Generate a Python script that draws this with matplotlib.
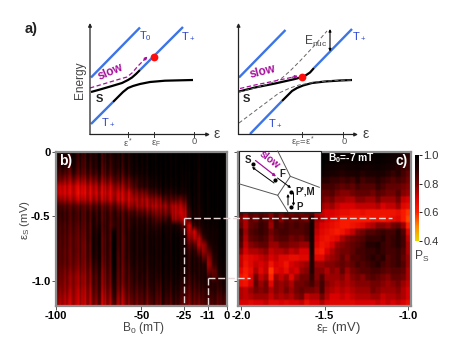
import numpy as np
import matplotlib
matplotlib.use("Agg")
import matplotlib.pyplot as plt
from matplotlib.colors import LinearSegmentedColormap

plt.rcParams['font.family'] = ['Liberation Sans', 'DejaVu Sans']
plt.rcParams['mathtext.fontset'] = 'custom'
plt.rcParams['mathtext.rm'] = 'Liberation Sans'
plt.rcParams['mathtext.default'] = 'regular'

W, H = 458, 354

# Panel b: P_S in hundredths, rows eps_S 0 to -1.2 mV, columns B0 -100 to 0 mT
ps_b = [
 [92,94,90,94,91,88,92,90,94,88,92,90,94,91,94,96,98,97,98,99,100,100,98,100,100,100,100,100,98,100,100,100,100,100],
 [90,92,88,92,90,86,90,90,93,87,90,88,92,90,93,96,97,97,98,99,100,100,98,99,100,99,100,100,97,100,99,100,100,100],
 [88,90,86,90,88,85,88,89,92,85,89,87,91,89,92,95,96,96,97,99,99,99,98,99,100,98,100,99,97,99,99,100,100,100],
 [85,85,82,86,85,82,85,86,88,83,86,85,88,86,90,93,94,95,96,97,98,99,98,99,99,97,99,99,96,99,99,99,100,100],
 [80,78,77,78,78,76,79,79,82,78,80,80,84,81,84,88,90,92,93,95,96,98,97,98,99,96,99,99,96,99,99,99,100,100],
 [72,71,71,71,71,70,72,73,75,72,74,74,77,76,80,84,88,90,91,93,94,96,95,96,98,95,99,98,96,99,99,99,100,100],
 [71,70,70,70,69,68,70,71,72,70,71,71,72,72,73,78,80,80,84,86,88,92,90,92,94,92,97,98,95,99,98,99,99,100],
 [77,75,75,74,74,73,73,75,75,73,73,73,72,71,72,74,76,75,76,78,78,84,84,84,82,84,95,96,95,98,98,99,99,100],
 [86,84,84,83,85,82,82,84,84,82,82,81,80,78,76,78,76,76,75,74,75,76,78,74,74,76,92,96,94,98,98,99,99,100],
 [88,87,86,86,88,84,86,88,88,85,86,85,86,84,85,86,84,84,82,80,79,80,80,74,72,72,88,94,93,97,98,98,99,100],
 [87,87,86,85,88,84,86,90,88,85,87,85,88,85,88,90,90,90,88,86,84,86,88,76,76,72,88,93,93,96,97,98,99,100],
 [86,85,85,84,86,83,85,90,90,86,86,84,88,85,88,92,91,92,91,90,90,94,92,94,90,84,72,88,91,94,96,96,98,100],
 [85,85,84,83,85,82,85,91,92,85,87,92,88,85,90,93,92,93,92,93,92,96,93,96,94,90,74,71,84,92,95,95,97,99],
 [85,84,83,82,84,81,85,92,93,84,86,94,88,84,90,93,92,94,93,94,93,97,93,98,96,94,78,74,75,87,94,95,97,99],
 [84,84,83,82,84,80,84,92,93,84,87,95,88,84,90,93,92,94,93,94,93,97,94,98,96,94,84,84,74,76,90,94,97,99],
 [84,83,82,82,84,80,84,92,92,84,86,95,87,84,90,93,92,94,93,95,93,97,94,98,97,95,88,90,82,76,84,92,96,99],
 [84,83,82,81,83,80,83,90,92,83,86,94,86,84,89,92,92,93,92,94,93,96,94,97,96,95,90,92,90,82,78,90,96,98],
 [83,82,82,80,82,79,82,88,90,82,85,94,86,83,88,92,91,92,92,94,92,96,94,97,96,95,90,92,92,90,76,88,95,97],
 [82,80,80,78,80,78,80,86,88,80,84,92,85,82,87,90,90,92,90,93,92,95,93,96,95,94,90,92,92,92,80,82,94,96],
 [81,79,78,76,78,76,79,84,86,79,83,90,84,82,86,89,90,90,89,92,90,94,92,95,94,92,88,90,92,92,88,84,90,95],
 [80,78,78,76,78,76,78,84,85,78,82,88,83,81,85,88,88,90,88,91,88,93,90,94,92,90,87,88,90,91,90,90,90,94],
 [78,77,76,75,76,74,76,82,84,76,80,86,81,78,84,86,86,88,86,90,86,92,88,92,90,88,84,86,88,88,88,90,88,92],
 [76,75,74,74,75,73,75,80,82,74,78,84,78,76,82,84,84,86,84,88,84,90,86,90,88,85,82,84,85,86,86,88,85,88],
 [74,74,72,73,74,72,74,78,80,72,76,80,76,74,80,82,82,84,82,86,82,88,84,88,86,82,80,82,82,84,84,86,84,86],
]

# Narrow vertical streaks of panel b, hundredths, read across the 102 fine columns
b_streak = [0, 2, -1, 3, 1, -2, 4, 0, -3, 2, 4, 1, -2, -4, 3, 0, 2, -2, 5, 3, -3, 1, 4, 0,
            -3, 6, 2, -4, 4, 0, 5, 1, -3, 2, 4, 6, 0, -2, 4, -3, 1, 5, 3, -4, 2, -1, 4, 0,
            -3, 3, 1, -2, 4, 0, -4, 2, 3, -1, 4, -3, 0, 3, -2, 4, 1, -3, 2, 4, -2, 0, 3, -3,
            4, 1, -2, 0, 3, -1, 2, -3, 1, 4, -2, 2, 0, -3, 3, -1, 1, 3, -2, 0, 2, -1, 1, 0,
            -2, 2, 0, 1, -1, 0]

# Panel c: P_S in hundredths, rows eps_S 0 to -1.2 mV, columns eps_F -2.0 to -1.0 mV
ps_c = [
 [100,100,100,100,100,100,100,100,100,100,100,100,100,100,100,100,100,99,99,98,98,97,98,99,100,99,98,99,98,97,96,95,93,90],
 [100,100,100,100,100,100,100,100,100,100,100,100,100,100,100,100,100,98,98,97,97,97,97,98,98,97,97,98,97,96,95,94,90,88],
 [99,99,99,99,99,99,99,99,99,99,99,99,99,99,99,99,99,96,96,95,94,95,95,96,95,94,96,96,95,94,92,90,88,86],
 [98,98,98,98,98,98,98,98,98,98,98,98,98,98,98,98,96,94,93,92,90,92,92,93,90,92,92,93,92,90,88,90,86,82],
 [96,96,96,96,96,96,96,96,96,96,96,96,96,96,96,92,90,90,88,88,86,88,86,90,86,88,88,90,88,86,84,86,84,80],
 [94,94,94,94,94,94,94,94,94,94,94,94,94,94,92,88,86,86,86,84,82,84,82,86,84,84,84,88,85,82,82,82,80,78],
 [92,92,92,92,92,92,92,92,92,92,92,92,92,92,88,84,82,82,84,80,78,78,80,82,82,82,80,84,82,80,80,84,78,76],
 [90,90,90,90,90,90,90,90,90,90,90,90,90,90,84,82,80,78,80,76,76,74,74,78,78,76,76,80,76,76,76,80,72,70],
 [88,88,88,88,88,88,88,88,88,88,88,88,88,88,82,78,76,74,76,72,70,70,70,72,72,72,72,74,70,72,72,76,68,66],
 [84,78,84,82,84,82,78,84,80,84,80,82,80,82,84,74,72,70,70,68,66,66,64,64,66,64,64,64,64,64,64,66,62,58],
 [80,74,82,80,86,84,78,86,78,84,82,84,82,80,92,76,74,70,68,66,62,62,62,62,62,62,64,64,62,64,66,68,62,56],
 [82,74,82,84,88,86,76,86,84,86,84,86,84,86,94,74,70,68,66,64,62,62,64,66,68,72,74,78,78,76,80,82,76,60],
 [88,76,84,86,88,86,80,84,86,86,84,84,84,86,94,72,68,66,64,62,64,68,72,78,80,84,84,86,88,86,86,90,84,68],
 [86,74,82,84,86,84,78,82,84,84,80,82,80,84,94,70,66,64,66,68,74,78,80,82,84,88,88,88,90,86,88,90,86,72],
 [84,72,78,80,82,82,76,76,80,80,78,78,76,76,92,68,64,66,70,76,78,80,82,84,86,90,90,92,88,86,88,90,86,74],
 [78,70,74,74,76,78,72,74,74,76,72,74,70,70,92,64,62,70,74,78,80,80,82,86,86,88,88,90,88,86,86,88,84,74],
 [72,66,68,70,72,74,70,72,68,68,66,66,68,68,90,68,68,74,76,78,82,78,84,84,86,88,90,88,90,84,86,88,82,76],
 [72,64,68,72,70,72,64,70,68,64,70,72,74,76,90,76,76,78,78,80,82,80,82,86,84,86,88,90,86,84,86,88,84,76],
 [68,62,66,74,68,72,58,68,70,66,72,70,76,78,90,78,78,74,78,76,82,76,80,82,84,84,86,86,84,82,84,84,82,74],
 [64,60,68,80,72,76,60,76,72,76,68,76,80,80,88,78,84,76,76,76,78,74,78,80,78,82,84,82,80,78,82,82,80,74],
 [66,64,70,82,76,80,68,78,76,78,74,80,80,82,86,80,86,78,76,74,76,74,76,78,78,78,80,80,78,76,78,80,76,72],
 [74,72,76,80,78,80,74,78,76,80,76,80,82,80,80,78,86,76,74,72,74,72,74,76,76,76,80,78,76,76,76,78,74,70],
 [74,72,74,76,76,76,72,76,74,76,74,78,80,72,74,74,80,74,70,70,72,70,72,74,74,74,76,76,72,74,74,76,74,70],
 [70,70,68,70,70,72,68,68,70,68,70,70,72,66,70,70,74,70,68,68,68,68,68,70,70,70,70,72,70,72,70,72,70,66],
]

b_ticks = [-100, -50, -25, -11, 0]
b_ticklabels = ['-100', '-50', '-25', '-11', '0']
c_ticks = [-2.0, -1.5, -1.0]
y_ticks = [0, -0.5, -1.0]
y_ticklabels = ['0', '-0.5', '-1.0']
cb_ticks = [0.4, 0.6, 0.8, 1.0]

# Schematic curves (picture coordinates of the two energy diagrams)
L_T0 = ([91, 140], [77.5, 27.5])
L_Tp_up = ([140, 183], [70, 27])
L_Tp_lo = ([91, 113], [124, 102])
L_S_up = ([91, 100, 112, 122, 128, 132, 136, 140], [92, 89.5, 86, 83, 80, 77.5, 74, 70])
L_S_lo = ([113, 118, 123, 128, 133, 140, 150, 165, 193], [102, 97, 92, 88, 86, 84, 82, 80.7, 80])
L_slow = ([90, 105, 120, 127, 132, 138, 146], [88, 83.5, 79, 77, 73, 66, 58])
R_T0 = ([239, 285.5], [77.5, 30])
R_Tp_up = ([314, 352], [68, 29])
R_Tp_lo = ([250, 282], [134, 101])
R_S_up = ([239, 255, 275, 295, 304, 310, 314], [91.5, 87.5, 83.5, 79, 76.5, 72.5, 68])
R_S_lo = ([282, 287, 292, 297, 303, 312, 325, 340, 352], [101, 96, 91, 88, 85.5, 83, 81.5, 80.5, 80])
R_gray1 = ([239, 259, 279, 290, 299, 316, 335, 352], [123, 108, 93, 88, 85, 82, 80.5, 80])
R_gray2 = ([239, 255, 270, 282, 290, 300, 314, 327], [92, 88, 83.5, 78, 71, 61, 46, 31])
R_slow = ([240, 255, 270, 284, 296], [88.5, 85, 82, 79, 76.5])

fig = plt.figure(figsize=(W / 100, H / 100), dpi=100)
fig.patch.set_facecolor('white')

def px_axes(x0, y0, x1, y1, **kw):
    return fig.add_axes([x0 / W, 1 - y1 / H, (x1 - x0) / W, (y1 - y0) / H], **kw)

ps_cmap = LinearSegmentedColormap.from_list(
    'ps', [(0, '#e8d800'), (0.17, '#ff8800'), (0.33, '#ff2000'), (0.5, '#d80000'),
           (0.67, '#700000'), (0.85, '#200000'), (1, '#000000')])
GRAY = '#8c8c8c'
TICKFS = 8

# ---- panel b
b_fine = np.repeat(np.array(ps_b), 3, axis=1) + np.array(b_streak)
ax_b = px_axes(56, 151.5, 226.5, 305.5)
ax_b.imshow(np.clip(b_fine, 0, 100) / 100, cmap=ps_cmap, vmin=0.4, vmax=1.0, aspect='auto',
            extent=[-100, 0, -1.2, 0], interpolation='bilinear')
ax_b.set_xlim(-100, 0)
ax_b.set_ylim(-1.19, 0)
ax_b.set_xticks(b_ticks, b_ticklabels, fontweight='bold', fontsize=TICKFS)
ax_b.set_yticks(y_ticks, y_ticklabels, fontweight='bold', fontsize=TICKFS)
ax_b.tick_params(length=3, width=0.7, color='#555555', pad=1)

# ---- panel c: soft-edged cells
c_fine = np.repeat(np.repeat(np.array(ps_c), 3, axis=0), 3, axis=1)
ax_c = px_axes(238.5, 151.5, 410.5, 305.5)
ax_c.imshow(c_fine / 100, cmap=ps_cmap, vmin=0.4, vmax=1.0, aspect='auto',
            extent=[-2.016, -0.984, -1.2, 0], interpolation='bilinear')
ax_c.set_xlim(-2.016, -0.984)
ax_c.set_ylim(-1.19, 0)
ax_c.set_xticks(c_ticks, ['-2.0', '-1.5', '-1.0'], fontweight='bold', fontsize=TICKFS)
ax_c.set_yticks(y_ticks, ['', '', ''])
ax_c.tick_params(length=3, width=0.7, color='#555555', pad=1)

for ax in (ax_b, ax_c):
    for s in ax.spines.values():
        s.set_color(GRAY)
        s.set_linewidth(1.6)

# ---- colour bar
ax_cb = px_axes(414.5, 155, 418.5, 241)
ax_cb.imshow(np.linspace(1.0, 0.4, 128)[:, None], cmap=ps_cmap, vmin=0.4, vmax=1.0,
             aspect='auto', extent=[0, 1, 0.4, 1.0])
ax_cb.set_xticks([])
ax_cb.yaxis.tick_right()
ax_cb.set_yticks(cb_ticks, ['0.4', '0.6', '0.8', '1.0'], fontsize=TICKFS, color='#333333')
ax_cb.tick_params(length=2, width=0.6, pad=1.5)
for s in ax_cb.spines.values():
    s.set_visible(False)

# ---- overlay in picture coordinates
ov = fig.add_axes([0, 0, 1, 1], facecolor='none')
ov.set_xlim(0, W)
ov.set_ylim(H, 0)
ov.axis('off')

BLUE = '#3d74e6'
PURPLE = '#a6109c'
TXT = '#444444'

def arrow(x0, y0, x1, y1, color='black', lw=0.8, style='-|>', ms=4, z=6):
    ov.annotate('', xy=(x1, y1), xytext=(x0, y0), zorder=z,
                arrowprops=dict(arrowstyle=style, color=color, lw=lw, mutation_scale=ms,
                                shrinkA=0, shrinkB=0))

for x0, x1, tx in [(90, 210, 217), (238.5, 358, 366)]:
    arrow(x0, 134.5, x1, 134.5, color='#222222', lw=0.9, ms=5)
    arrow(x0, 134.5, x0, 23, color='#222222', lw=0.9, ms=5)
    ov.text(tx, 133.5, 'ε', fontsize=10, ha='center', va='center', color=TXT)

for xs, ys in [L_T0, L_Tp_up, L_Tp_lo, R_T0, R_Tp_up, R_Tp_lo]:
    ov.plot(xs, ys, color=BLUE, lw=1.7, solid_capstyle='butt')
for xs, ys in [L_S_up, L_S_lo, R_S_up, R_S_lo]:
    ov.plot(xs, ys, color='black', lw=1.6, solid_capstyle='butt', solid_joinstyle='round')
for xs, ys in [R_gray1, R_gray2]:
    ov.plot(xs, ys, color='#666666', lw=0.7, ls=(0, (4, 2.5)))
for xs, ys in [L_slow, R_slow]:
    ov.plot(xs, ys, color=PURPLE, lw=0.9, ls=(0, (3.5, 2)))
arrow(144, 60, 147.5, 56.5, color=PURPLE, lw=0.9)
arrow(292, 77.3, 298, 76, color=PURPLE, lw=0.9)
ov.plot([153.5], [56.5], 'o', color='#ff0d0d', ms=5.6, mew=0, zorder=7)
ov.plot([301.5], [77], 'o', color='#ff0d0d', ms=5.6, mew=0, zorder=7)
arrow(330, 51.5, 330, 29, lw=0.8, style='<|-|>', ms=3.5)

for x in [128, 154, 194, 302, 343]:
    ov.plot([x, x], [132, 136.5], color='#333333', lw=0.7)

ov.text(31, 29, 'a)', fontsize=10.5, fontweight='bold', ha='center', va='center', color='#222222')
ov.text(80, 80, 'Energy', fontsize=8.6, rotation=90, ha='center', va='center', color=TXT)
ov.text(111, 72, 'slow', fontsize=8.6, fontweight='bold', color=PURPLE, rotation=23, ha='center', va='center')
ov.text(263, 72, 'slow', fontsize=8.6, fontweight='bold', color=PURPLE, rotation=14, ha='center', va='center')
ov.text(99, 98.5, 'S', fontsize=8, fontweight='bold', ha='center', va='center', color='#222222')
ov.text(246, 99, 'S', fontsize=8, fontweight='bold', ha='center', va='center', color='#222222')
for x, y, s in [(145, 36.5, 'T$_0$'), (188, 36, 'T$_+$'), (108, 122, 'T$_+$'), (275, 123.5, 'T$_+$'), (359, 36, 'T$_+$')]:
    ov.text(x, y, s, fontsize=8, color='#2b45d0', ha='center', va='center')
ov.text(316, 41, 'E$_{nuc}$', fontsize=8.6, ha='center', va='center', color=TXT)
for x, y, s in [(128, 143, 'ε$^*$'), (156, 144, 'ε$_F$'), (194, 142, '0'), (303, 142, 'ε$_F$=ε$^*$'), (344, 142, '0')]:
    ov.text(x, y, s, fontsize=6.8, ha='center', va='center', color='#555555')

ov.text(66, 160.5, 'b)', fontsize=10, fontweight='bold', color='white', ha='center', va='center')
ov.text(402, 161, 'c)', fontsize=10, fontweight='bold', color='white', ha='center', va='center')
ov.text(351, 158.5, 'B$_0$=-7 mT', fontsize=7.4, fontweight='bold', color='white', ha='center', va='center')
ov.text(143, 328, 'B$_0$ (mT)', fontsize=8.6, ha='center', va='center', color=TXT)
ov.text(25, 220, 'ε$_S$ (mV)', fontsize=8.2, rotation=90, ha='center', va='center', color=TXT)
ov.text(338, 328, 'ε$_F$ (mV)', fontsize=9.4, ha='center', va='center', color=TXT)
ov.text(422, 256.5, 'P$_S$', fontsize=8.6, ha='center', va='center', color=TXT)

# white guides
DASH = (0, (5, 2))
for xs, ys in [([184, 392], [217.5, 217.5]), ([184, 184], [217.5, 305]),
               ([208, 250], [277.5, 277.5]), ([208, 208], [277.5, 305])]:
    ov.plot(xs, ys, color='#e8d8d8', lw=1.0, ls=DASH, zorder=4)

# inset
ov.fill([238.7, 320.7, 320.7, 238.7], [151, 151, 212, 212], facecolor='white',
        edgecolor='#222222', lw=0.8, zorder=5)
for xs, ys in [([277.7, 290.3, 319.3], [151, 176.3, 187.3]),
               ([290.3, 277.7, 238.7], [176.3, 195.3, 183.7]),
               ([277.7, 287.7], [195.3, 211.5])]:
    ov.plot(xs, ys, color='#555555', lw=0.7, zorder=6)
ov.plot([253.3, 274.7, 291, 291], [163.7, 180, 192, 207.3], 'o', color='black', ms=3, mew=0, ls='none', zorder=7)
arrow(274, 183, 252, 167, lw=0.7, ms=3.5)
arrow(255.5, 160.5, 276, 176.5, color=PURPLE, lw=0.9, ms=4)
arrow(277.5, 178, 291, 188, lw=0.7, ms=3.5)
arrow(293.5, 193, 293.5, 206, lw=0.7, ms=3.5)
arrow(288, 205, 288, 194, lw=0.7, ms=3.5)
for x, y, s in [(247.7, 159.7, 'S'), (282, 174, 'F'), (305, 191, "P',M"), (300, 207.5, 'P')]:
    ov.text(x, y, s, fontsize=7, fontweight='bold', ha='center', va='center', color='#222222', zorder=8)
ov.text(270, 160, 'slow', fontsize=7.4, fontweight='bold', rotation=-38, color=PURPLE, ha='center', va='center', zorder=8)

fig.savefig('out.png', dpi=100)
